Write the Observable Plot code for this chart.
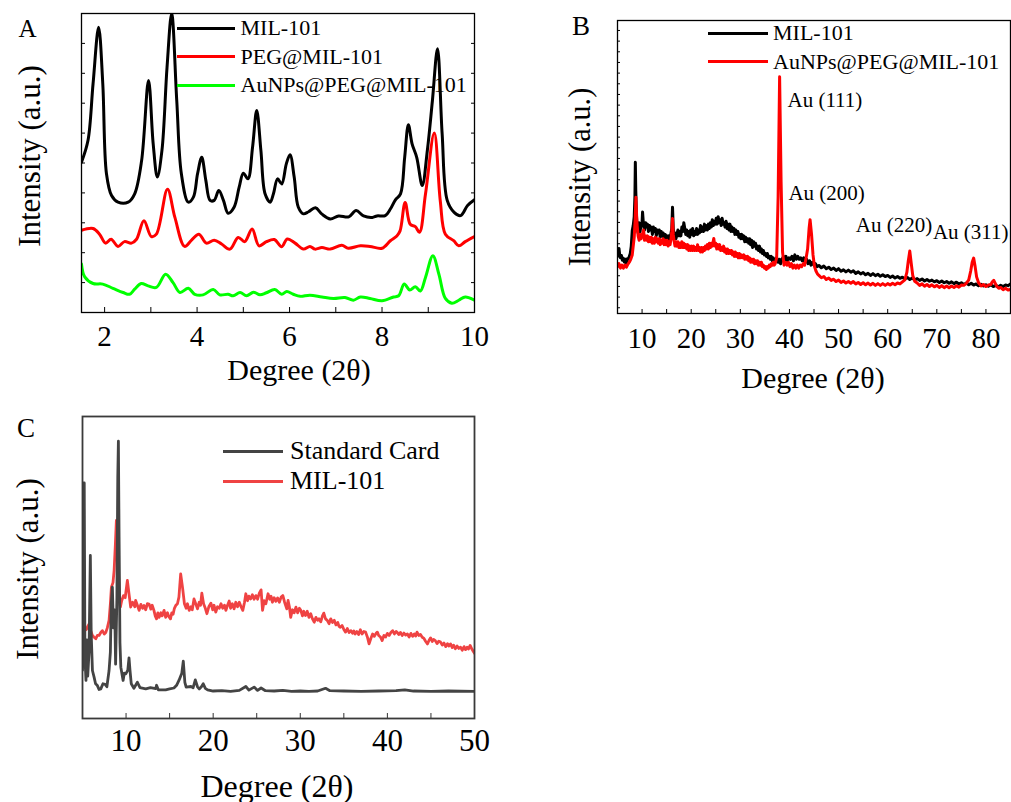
<!DOCTYPE html>
<html><head><meta charset="utf-8">
<script src="https://cdn.jsdelivr.net/npm/d3@7"></script>
<script src="https://cdn.jsdelivr.net/npm/@observablehq/plot@0.6"></script>
<style>
body{margin:0;background:#fff;}
#fig{position:relative;width:1011px;height:802px;background:#fff;font-family:'Liberation Serif','Times New Roman',serif;color:#000;overflow:hidden}
#fig svg{position:absolute}
.t{position:absolute;white-space:nowrap;line-height:1;font-family:'Liberation Serif','Times New Roman',serif}
.sw{position:absolute}
</style></head><body><div id="fig"></div>
<script>
// ---------- Panel A data: [2θ (deg), intensity (a.u.)] ----------
const A_MIL101 = [[1.5,50.3],[1.64,57.5],[1.75,76.5],[1.87,95.4],[1.96,76.6],[2.04,46.4],[2.15,39.1],[2.29,36.9],[2.51,36.9],[2.65,39.7],[2.8,50.8],[2.95,77.6],[3.05,56.5],[3.14,45.3],[3.24,54.2],[3.35,82],[3.45,100],[3.56,70.9],[3.66,46.4],[3.81,36.9],[3.92,38.6],[4.01,46.4],[4.1,51.9],[4.19,44.1],[4.28,37.5],[4.37,37.5],[4.47,40.8],[4.57,37.5],[4.67,33.2],[4.8,35.2],[4.91,41.9],[5.0,46.6],[5.1,44.7],[5.2,55.3],[5.29,67.6],[5.38,54.2],[5.47,39.7],[5.58,36.9],[5.65,39.6],[5.74,44.7],[5.83,43],[5.93,49.7],[6.01,52.8],[6.1,45.3],[6.19,35.2],[6.3,33],[6.41,33.7],[6.56,35],[6.7,32.9],[6.88,31.3],[7.06,32.3],[7.28,32],[7.44,34.1],[7.6,32.3],[7.79,31.8],[7.89,32.3],[8.07,32.4],[8.18,34.6],[8.29,37.7],[8.4,39.7],[8.49,51.9],[8.57,62.8],[8.65,56.4],[8.75,51.9],[8.87,42.5],[8.98,54.2],[9.09,70.9],[9.2,88.2],[9.3,59.8],[9.41,37.5],[9.56,33.5],[9.7,32.4],[9.85,35.8],[10,37.7]];
const A_PEG = [[1.5,27.5],[1.75,28.1],[1.89,26.2],[2.02,23.2],[2.14,24.5],[2.29,22.1],[2.43,23.7],[2.58,23.2],[2.69,24.5],[2.85,30.7],[3.01,25.4],[3.12,26.2],[3.36,41.2],[3.52,31.8],[3.73,22.1],[3.88,24.2],[4.04,26.2],[4.2,23.2],[4.37,24.2],[4.53,22.9],[4.71,21.2],[4.89,25.1],[5.03,23.7],[5.19,27.9],[5.34,22.3],[5.5,23.7],[5.67,24.4],[5.83,22],[5.95,24.6],[6.12,23.2],[6.3,21.2],[6.44,22.1],[6.55,21.2],[6.7,21.7],[6.88,21.2],[7.13,22.5],[7.27,21.5],[7.53,22.3],[7.74,22.1],[8.0,21.5],[8.18,24],[8.32,25.6],[8.39,27.3],[8.5,36.8],[8.61,29.5],[8.72,28.7],[8.81,26.8],[8.94,39.6],[9.13,60],[9.26,37.3],[9.37,26.2],[9.55,24],[9.66,22.3],[9.8,23.7],[10,25.4]];
const A_AuNPs = [[1.5,16.2],[1.57,11.9],[1.75,9.7],[1.96,9.5],[2.18,8.1],[2.4,6.7],[2.54,6.1],[2.65,7.8],[2.79,9.7],[2.94,8.9],[3.12,8.4],[3.32,12.8],[3.48,10],[3.63,6.7],[3.81,8.1],[3.95,6.1],[4.13,5.9],[4.35,7.7],[4.49,5.9],[4.67,6.1],[4.78,5.6],[4.93,6.7],[5.07,5.6],[5.22,6.8],[5.36,5.9],[5.5,6.6],[5.68,7.7],[5.83,6.1],[5.94,7],[6.08,6.1],[6.23,5.4],[6.44,5.8],[6.7,5.2],[6.95,4.7],[7.2,5],[7.38,4.1],[7.53,5.2],[7.74,4.7],[8.0,3.9],[8.25,5.2],[8.36,5.6],[8.48,9.5],[8.6,7.5],[8.72,8.6],[8.83,7.2],[8.94,11.7],[9.1,19],[9.23,12.8],[9.37,4.7],[9.51,3.1],[9.66,4.1],[9.8,5.2],[10,4.1]];
const A_xLabels = [2,4,6,8,10];
const A_xTicks = [2,3,4,5,6,7,8,9];
const A_yTicks = [10,20,30,40,50,60,70,80,90];
const A_names = ["MIL-101","PEG@MIL-101","AuNPs@PEG@MIL-101"];
const A_colors = ["#000000","#ff0000","#00ff00"];

// ---------- Panel B data ----------
const B_MIL101 = [[5,19.5],[5.15,21],[5.3,22.2],[5.45,20],[5.6,19],[5.8,19.8],[6.0,18.2],[6.2,18.8],[6.4,17.5],[6.6,18.5],[6.8,17.2],[7.0,18.7],[7.2,18.5],[7.4,19.5],[7.6,20.5],[7.8,23],[8.0,28.3],[8.2,30],[8.4,33],[8.55,40],[8.63,51.6],[8.72,42],[8.85,34],
[9.0,29],[9.2,27.5],[9.4,31],[9.6,28],[9.8,30.5],[10.0,31],[10.1,34.6],[10.3,30],[10.5,28.5],[10.7,31],[10.9,29.5],[11.1,30.5],[11.3,28],[11.5,30],[11.7,28.5],[11.9,29.5],[12.1,27],[12.3,29.5],[12.5,28],[12.7,29],[12.9,26.5],[13.1,28.5],[13.3,27.5],[13.5,28.5],[13.7,26],[13.9,28],[14.1,26.5],[14.3,27.5],[14.5,25],[14.7,27],[14.9,25.5],[15.1,26.5],[15.3,24.5],[15.5,26.5],[15.7,25.5],[15.9,27.5],[16.05,29],[16.2,36.3],[16.35,29],[16.5,26.5],[16.7,27.5],[16.9,25.5],[17.1,27],[17.3,28.5],[17.5,26.5],[17.7,28],[17.9,26.5],[18.1,29.5],[18.3,28],[18.5,31],[18.7,29],[18.9,27],[19.1,28.5],[19.3,26.5],[19.5,28],[19.7,26],[19.9,28.5],[20.1,27],[20.3,29],[20.5,26.5],[20.7,28],[20.9,27],[21.1,29],[21.3,27],[21.5,28.5],[21.7,27.5],[21.9,30],[22.1,28],[22.3,29.5],[22.5,28],[22.7,30.5],[22.9,28.5],[23.1,30],[23.3,28.5],[23.5,30.5],[23.7,29],[23.9,31],[24.1,29.5],[24.3,32],[24.5,30],[24.7,31.5],[24.9,30.5],[25.1,32.5],[25.3,30.5],[25.5,33],[25.7,31],[25.9,32],[26.1,30],[26.3,32.5],[26.5,30.5],[26.7,31],[26.9,29.5],[27.1,31.5],[27.3,29],[27.5,30.5],[27.7,28.5],[27.9,30.5],[28.1,28],[28.3,29.5],[28.5,28],[28.7,29],[28.9,27],[29.1,28.5],[29.3,27],[29.5,28],[29.7,26],[29.9,27],[30.1,25.5],[30.3,27],[30.5,25.5],[30.7,26.5],[30.9,24.5],[31.1,26],[31.3,24.5],[31.5,25.5],[31.7,24],[31.9,25.5],[32.1,23.5],[32.3,25],[32.5,22.5],[32.7,24.5],[32.9,23],[33.1,24],[33.3,22],[33.5,23],[33.7,21.5],[33.9,23],[34.1,21],[34.3,22],[34.5,20.5],[34.7,21.5],[34.9,20],[35.1,20.5],[35.3,19.5],[35.5,20.5],[35.7,19],[35.9,19.5],[36.1,18.5],[36.3,19.5],[36.5,18],[36.7,19],[36.9,18],
[37.2,18],[37.4,19],[37.7,17.5],[38.0,18.5],[38.2,17],[38.5,18.5],[38.8,19.5],[39.0,18],[39.3,19.5],[39.6,18],[39.9,19],[40.2,18.5],[40.5,19.5],[40.8,18],[41.1,20],[41.4,18.5],[41.7,19.5],[42.0,18.5],[42.3,19],[42.6,18],[42.9,19],[43.2,17.5],[43.5,18.5],[43.8,17],[44.1,18],[44.4,16.5],[44.7,17.5],[45,16.5],[45.3,17],[45.6,16],
[46,16.4],[46.5,15.6],[47,16.2],[47.5,15.3],[48,15.8],[48.5,15],[49,15.5],[49.5,14.7],[50,15.3],[50.5,14.4],[51,14.9],[51.5,14.2],[52,14.8],[52.5,14.1],[53,14.6],[53.5,13.7],[54,14.2],[54.5,13.5],[55,14],[55.5,13.2],[56,13.7],[56.5,13],[57,13.6],[57.5,12.9],[58,13.4],[58.5,12.7],[59,13.2],[59.5,12.6],[60,13],[60.5,12.3],[61,12.8],[61.5,12.1],[62,12.6],[62.5,12],[63,12.4],[63.5,11.8],[64,12.3],[64.5,11.6],[65,12.1],[65.5,11.5],[66,11.9],[66.5,11.3],[67,11.8],[67.5,11.1],[68,11.6],[68.5,11],[69,11.4],[69.5,10.8],[70,11.2],[70.5,10.6],[71,11.1],[71.5,10.5],[72,10.9],[72.5,10.3],[73,10.8],[73.5,10.2],[74,10.7],[74.5,10.1],[75,10.5],[75.5,9.9],[76,10.4],[76.5,9.8],[77,10.3],[77.5,9.7],[78,10.1],[78.5,9.5],[79,10],[79.5,9.4],[80,9.8],[80.5,9.3],[81,9.8],[81.5,9.2],[82,9.6],[82.5,9.1],[83,9.6],[83.5,9.2],[84,9.7],[84.5,9.5],[85,10.1]];
const B_AuNPs = [[5,16],[5.3,17],[5.6,15.5],[5.9,16.5],[6.2,15.5],[6.5,16.5],[6.8,15.8],[7.1,16.8],[7.4,17.5],[7.7,18.5],[8.0,20],[8.2,23],[8.4,26],[8.6,32],[8.75,39.7],[8.9,33],
[9.0,30],[9.2,26.5],[9.4,25],[9.6,27],[9.8,25.5],[10.0,26.5],[10.3,28.5],[10.5,25],[10.7,26.5],[10.9,25],[11.1,26.5],[11.3,24.5],[11.5,26],[11.7,24.5],[11.9,26],[12.1,24],[12.3,25.5],[12.5,24],[12.7,26],[12.9,24.5],[13.1,25.5],[13.3,24],[13.5,25.5],[13.7,23.5],[13.9,25],[14.1,24],[14.3,25.5],[14.5,23.5],[14.7,25],[14.9,23.5],[15.1,25],[15.3,23],[15.5,24.5],[15.7,23.5],[15.9,25.5],[16.05,28],[16.2,32.4],[16.35,27],[16.5,25],[16.7,23],[16.9,24.5],[17.1,23],[17.3,24.5],[17.5,22.5],[17.7,24],[17.9,22.5],[18.1,24.5],[18.3,22.5],[18.5,24],[18.7,22.5],[18.9,23.5],[19.1,22],[19.3,23.5],[19.5,21.5],[19.7,23],[19.9,21.5],[20.1,23],[20.3,21.5],[20.5,23],[20.7,21.5],[20.9,22.5],[21.1,21.5],[21.3,23.5],[21.5,21.5],[21.7,22.5],[21.9,21],[22.1,22.5],[22.3,21],[22.5,22.5],[22.7,21.5],[22.9,23],[23.1,22],[23.3,23.5],[23.5,22],[23.7,24],[23.9,22.5],[24.1,24],[24.3,23],[24.6,25.6],[24.8,23],[25.0,24],[25.2,22],[25.4,23.5],[25.6,22],[25.8,23.5],[26.0,21.5],[26.2,22.5],[26.4,21.5],[26.6,23],[26.8,21],[27.0,22],[27.2,20.5],[27.4,22],[27.6,20.5],[27.8,21.5],[28.0,20.5],[28.2,21.5],[28.4,20],[28.6,21],[28.8,19.5],[29.0,21],[29.2,19.5],[29.4,20.5],[29.6,19],[29.8,20.5],[30.0,19],[30.2,20],[30.4,19],[30.7,20],[30.9,18.5],[31.1,19.5],[31.3,18.5],[31.5,19.5],[31.7,18],[31.9,19],[32.1,17.5],[32.3,18.5],[32.5,17.5],[32.7,18.5],[32.9,17],[33.1,18],[33.3,17],[33.5,18],[33.7,16.5],[33.9,17.5],[34.1,16.5],[34.3,17.5],[34.5,16],[34.7,16.5],[34.9,15.5],[35.1,16],[35.3,15],[35.5,16],[35.7,15.5],[35.9,16.5],[36.1,16],[36.3,17],[36.5,16.5],[36.7,17.5],[36.9,16.5],[37.1,17],[37.4,19],[37.7,40],[38.0,80.8],[38.3,45],[38.6,21],[38.9,16.5],[39.2,17.5],[39.5,16.5],[39.8,17.5],[40.1,16],[40.4,17],[40.7,15.5],[41.0,16.5],[41.3,15.5],[41.6,16.5],[41.9,15.5],[42.2,16.5],[42.5,16],[42.8,17],[43.1,16.5],[43.4,19],[43.7,22],[44.0,29],[44.2,32],[44.5,27],[44.8,20],[45.1,16],[45.4,14.5],[45.7,13.5],
[46,13],[46.5,12.2],[47,12.6],[47.5,11.6],[48,12.1],[48.5,11.3],[49,11.7],[49.5,10.9],[50,11.4],[50.5,10.6],[51,11.1],[51.5,10.4],[52,10.9],[52.5,10.3],[53,10.9],[53.5,10.1],[54,10.6],[54.5,9.9],[55,10.5],[55.5,9.8],[56,10.4],[56.5,9.7],[57,10.3],[57.5,9.6],[58,10.2],[58.5,9.6],[59,10.2],[59.5,9.6],[60,10.2],[60.5,9.7],[61,10.3],[61.5,9.8],[62,10.4],[62.5,10.1],[63,10.8],[63.5,11.5],[63.9,14],[64.2,18],[64.5,21.3],[64.8,17],[65.1,13],[65.5,11],[66,10.4],[66.5,9.6],[67,10.1],[67.5,9.3],[68,9.9],[68.5,9.2],[69,9.8],[69.5,9.1],[70,9.6],[70.5,8.9],[71,9.5],[71.5,8.8],[72,9.4],[72.5,8.8],[73,9.4],[73.5,8.9],[74,9.5],[74.5,9],[75,9.7],[75.5,9.6],[76,10.3],[76.5,11.5],[76.9,14.5],[77.2,17.5],[77.5,18.9],[77.8,16],[78.1,12.5],[78.5,10.5],[79,9.4],[79.5,9.9],[80,9.2],[80.5,9.7],[81,9.9],[81.3,10.8],[81.6,11.3],[81.9,10.3],[82.2,9.3],[82.6,8.6],[83,8.9],[83.5,8.1],[84,8.6],[84.5,8],[85,8.2]];
const B_peakLabels = [{x:39.6,y:72.7,t:"Au (111)"},{x:39.8,y:41,t:"Au (200)"},{x:53.5,y:30,t:"Au (220)"},{x:69.2,y:27.6,t:"Au (311)"}];
const B_xLabels = [10,20,30,40,50,60,70,80];
const B_xTicks = [10,15,20,25,30,35,40,45,50,55,60,65,70,75,80];
const B_yTicks = d3.range(96.6, 0, -3.64);
const B_names = ["MIL-101","AuNPs@PEG@MIL-101"];
const B_colors = ["#000000","#ff0000"];

// ---------- Panel C data ----------
const C_card = [[5.0,16],[5.07,30],[5.13,78],[5.2,78],[5.28,20],[5.4,12.6],[5.5,26],[5.6,14],[5.75,22],[5.9,54],[6.0,28],[6.14,15.9],[6.33,13.7],[6.5,11.5],[6.71,10.9],[6.9,9.6],[7.1,9.8],[7.35,11.5],[7.6,11.3],[7.8,10.5],[8.05,15.9],[8.2,22],[8.3,38],[8.43,43.5],[8.55,30],[8.7,36],[8.8,18],[8.95,40],[9.05,80],[9.12,91.8],[9.2,60],[9.3,25],[9.4,17],[9.66,12.6],[9.8,15],[9.97,14.8],[10.2,16],[10.34,20.1],[10.45,16],[10.6,11.5],[10.9,10],[11.3,12],[11.6,10.2],[12.26,9.8],[12.8,10.2],[13.4,9.9],[13.5,11],[13.7,9.5],[14.55,9.5],[15.0,9.8],[15.5,10.1],[15.8,11],[16.07,12.6],[16.4,15],[16.57,19],[16.75,12],[16.9,10.4],[17.45,10.6],[17.7,10.2],[17.95,12.8],[18.2,10.5],[18.4,9.8],[18.65,10.5],[18.86,11.5],[19.1,10],[19.36,9.5],[20,9.1],[21,9.2],[22,9.0],[23,9.3],[23.75,10.6],[24.1,9.4],[24.7,10.4],[25.1,9.3],[25.5,10.1],[26,9.2],[27,9.1],[28,9.3],[29,9.0],[30,9.1],[31,9.0],[32,9.1],[32.9,10],[33.4,9.2],[35,9.1],[37,9.0],[39,9.1],[41,9.2],[42,9.5],[43,9.1],[45,9.0],[47,9.1],[50,9.0]];
const C_MIL101 = [[5.0,30.2],[5.2,29],[5.45,29.5],[5.6,30.5],[5.76,31.3],[5.95,29],[6.14,27.5],[6.3,27],[6.53,26.4],[6.7,27.5],[6.9,27.5],[7.1,28.5],[7.28,29.1],[7.5,28],[7.67,28.5],[7.85,30],[8.05,32.5],[8.2,38],[8.32,43.5],[8.5,45],[8.63,49],[8.78,58],[8.89,65.6],[9.0,58],[9.12,49],[9.25,40],[9.35,36.9],[9.5,39],[9.7,40.7],[9.9,40],[10.15,45.7],[10.35,41],
[10.53,36.9],[10.75,38.5],[11.0,37],[11.1,39.1],[11.3,37.5],[11.5,35.8],[11.7,37.8],[11.9,36.5],[12.06,37.4],[12.25,36],[12.45,38],[12.64,37.9],[12.85,36.2],[13.0,37.5],[13.2,35.8],[13.35,34],[13.5,33],[13.65,35],[13.8,33.5],[14.0,35],[14.15,34],[14.36,35.8],[14.55,33.5],[14.75,35],[14.9,33.8],[15.1,33],[15.25,35],[15.4,34.5],[15.55,36.5],[15.7,37.4],[15.9,38],[16.07,40.2],[16.27,47.9],[16.5,43],[16.7,38],[16.9,36.5],[17.05,38],[17.25,35.8],[17.45,37],[17.6,36],[17.8,39.6],[18.0,38],[18.2,36.3],[18.4,38.5],[18.55,37.5],[18.7,41.5],[18.9,38],[19.1,36.5],[19.28,34.7],[19.5,37],[19.74,38.2],[19.95,36],[20.1,37.5],[20.3,35.2],[20.5,37],[20.7,36.5],[20.9,38],[21.1,36.5],[21.3,37.5],[21.46,35.8],[21.65,37.5],[21.84,38.9],[22.0,36.5],[22.2,38],[22.4,36.3],[22.6,38.5],[22.8,37],[23.0,38.5],[23.2,37],[23.4,35.8],[23.6,38.5],[23.75,41.3],[23.95,39],[24.1,40.5],[24.3,39.6],[24.5,41],[24.7,39.5],[24.9,40.7],[25.1,39.5],[25.3,41.5],[25.5,42.6],[25.67,35.8],[25.85,39],[26.05,38],[26.3,41.3],[26.5,39.5],[26.65,40.5],[26.8,38.5],[27.0,40],[27.2,38.8],[27.4,39.9],[27.6,38.5],[27.8,40.2],[28.0,40.7],[28.2,38.5],[28.45,36.3],[28.6,39.1],[28.75,37],[28.9,33.5],[29.1,36],[29.3,35],[29.5,36.9],[29.7,35],[29.9,36.5],[30.06,35.8],[30.25,34],[30.4,35.5],[30.6,34.1],[30.8,35.5],[31.0,33.5],[31.2,34.7],[31.4,33],[31.6,31.9],[31.8,33.5],[32.0,32.5],[32.15,33],[32.35,32],[32.55,34],[32.7,34.9],[32.9,33],[33.1,32.5],[33.3,31.4],[33.5,33],[33.7,31.8],[33.9,32.5],[34.1,31],[34.3,31.8],[34.45,30.5],[34.6,30.2],[34.8,30.8],[35.0,29.5],[35.2,28.6],[35.4,29.8],[35.6,28.5],[35.8,29.1],[36.0,28.2],[36.15,29],[36.3,28],[36.5,28.8],[36.7,27.8],[36.9,29.4],[37.1,28],[37.3,28.8],[37.5,28.6],[37.7,27],[37.9,24.7],[38.1,26.5],[38.3,28],[38.5,27.2],[38.7,28.2],[38.85,28.6],[39.0,27.5],[39.2,27],[39.4,25.8],[39.6,27.5],[39.8,27],[40.0,28.2],[40.2,27.5],[40.4,28.5],[40.6,29.1],[40.8,28],[41.0,28.8],[41.1,28.6],[41.3,27.8],[41.5,28.5],[41.7,27.5],[41.9,28.3],[42.1,27.6],[42.3,28],[42.5,27],[42.7,28.2],[42.9,27.2],[43.1,28],[43.25,27.3],[43.4,28.6],[43.6,27.5],[43.8,27.8],[44.0,26.9],[44.2,26.5],[44.4,25.5],[44.6,24.7],[44.8,26],[44.96,26.7],[45.15,25.5],[45.3,26.2],[45.5,25.8],[45.7,24.8],[45.9,25.6],[46.1,25.3],[46.3,24.3],[46.5,25],[46.7,23.8],[46.9,24.8],[47.05,24],[47.25,24.7],[47.45,23.5],[47.6,24.3],[47.8,23.1],[48.0,24],[48.2,23.2],[48.4,23.6],[48.6,22.6],[48.8,23.8],[48.97,22.8],[49.15,23.6],[49.3,23],[49.5,24.2],[49.7,23],[49.85,22.3],[50,21.6]];
const C_xLabels = [10,20,30,40,50];
const C_xTicks = [10,15,20,25,30,35,40,45];
const C_names = ["Standard Card","MIL-101"];
const C_colors = ["#444444","#ef4343"];

// ---------- helpers ----------
const fig = document.getElementById("fig");
const SERIF = "'Liberation Serif','Times New Roman',serif";
function txt(str, x, y, size, anchor = "middle", rotate = 0) {
  const d = document.createElement("div");
  d.className = "t"; d.textContent = str;
  d.style.fontSize = size + "px";
  d.style.left = x + "px"; d.style.top = y + "px";
  d.style.transform = `translate(${anchor === "start" ? "0" : "-50%"},-50%)` + (rotate ? ` rotate(${rotate}deg)` : "");
  fig.appendChild(d);
}
function swatch(x1, x2, y, color, w) {
  const d = document.createElement("div");
  d.className = "sw";
  d.style.left = x1 + "px"; d.style.top = (y - w / 2) + "px";
  d.style.width = (x2 - x1) + "px"; d.style.height = w + "px";
  d.style.background = color;
  fig.appendChild(d);
}
function place(svg, left, top) {
  svg.style.left = left + "px"; svg.style.top = top + "px";
  fig.appendChild(svg);
}
const fx = d => d[0], fy = d => d[1];
const blank = () => "";

// ---------- Panel A ----------
const plotA = Plot.plot({
  width: 490, height: 400,
  marginLeft: 81, marginRight: 16, marginTop: 13, marginBottom: 88,
  x: {domain: [1.5, 10]},
  y: {domain: [0, 100]},
  style: {fontFamily: SERIF, fontSize: "29px", color: "#000", background: "transparent", overflow: "visible"},
  marks: [
    Plot.axisX({ticks: A_xLabels, tickSize: 0, tickPadding: 13, label: null, fontFamily: SERIF}),
    Plot.axisX({ticks: A_xTicks, tickSize: -5, tickFormat: blank, label: null}),
    Plot.axisY({ticks: A_yTicks, tickSize: -4, tickFormat: blank, label: null}),
    Plot.axisY({anchor: "right", ticks: A_yTicks, tickSize: -4, tickFormat: blank, label: null}),
    Plot.line(A_AuNPs, {x: fx, y: fy, stroke: A_colors[2], strokeWidth: 3, curve: "catmull-rom", clip: true}),
    Plot.line(A_PEG, {x: fx, y: fy, stroke: A_colors[1], strokeWidth: 3, curve: "catmull-rom", clip: true}),
    Plot.line(A_MIL101, {x: fx, y: fy, stroke: A_colors[0], strokeWidth: 3, curve: "catmull-rom", clip: true}),
    Plot.frame({stroke: "#000", strokeWidth: 1.3})
  ]
});
place(plotA, 0, 0);

// ---------- Panel B ----------
const plotB = Plot.plot({
  width: 451, height: 400,
  marginLeft: 57, marginRight: 1, marginTop: 20, marginBottom: 87,
  x: {domain: [5, 85]},
  y: {domain: [0, 100]},
  style: {fontFamily: SERIF, fontSize: "29px", color: "#000", background: "transparent", overflow: "visible"},
  marks: [
    Plot.axisX({ticks: B_xLabels, tickSize: 0, tickPadding: 14, label: null, fontFamily: SERIF}),
    Plot.axisX({ticks: B_xTicks, tickSize: -4, tickFormat: blank, label: null}),
    Plot.axisY({ticks: B_yTicks, tickSize: -3, tickFormat: blank, label: null}),
    Plot.line(B_MIL101, {x: fx, y: fy, stroke: B_colors[0], strokeWidth: 3, clip: true}),
    Plot.line(B_AuNPs, {x: fx, y: fy, stroke: B_colors[1], strokeWidth: 3, clip: true}),
    Plot.text(B_peakLabels, {x: "x", y: "y", text: "t", textAnchor: "start", fontSize: 21, fontFamily: SERIF, fill: "#000"}),
    Plot.frame({stroke: "#000", strokeWidth: 1.3})
  ]
});
place(plotB, 560, 0);

// ---------- Panel C ----------
const plotC = Plot.plot({
  width: 490, height: 402,
  marginLeft: 82, marginRight: 16, marginTop: 16, marginBottom: 84,
  x: {domain: [5, 50]},
  y: {domain: [0, 100], axis: null},
  style: {fontFamily: SERIF, fontSize: "31px", color: "#333", background: "transparent", overflow: "visible"},
  marks: [
    Plot.axisX({ticks: C_xLabels, tickSize: 0, tickPadding: 10, label: null, fill: "#000", fontFamily: SERIF}),
    Plot.axisX({ticks: C_xTicks, tickSize: -5, tickFormat: blank, label: null}),
    Plot.line(C_MIL101, {x: fx, y: fy, stroke: C_colors[1], strokeWidth: 2.8, clip: true}),
    Plot.line(C_card, {x: fx, y: fy, stroke: C_colors[0], strokeWidth: 2.8, clip: true}),
    Plot.frame({stroke: "#3a3a3a", strokeWidth: 1.8})
  ]
});
place(plotC, 0, 400);

// ---------- titles, legends, labels ----------
txt("A", 27.5, 27.5, 25);
txt("B", 581, 26, 27);
txt("C", 26, 427.5, 27);

txt("Degree (2θ)", 299, 370, 30);
txt("Intensity (a.u.)", 29, 156, 31, "middle", -90);
txt("Degree (2θ)", 813, 378, 30);
txt("Intensity (a.u.)", 580, 177, 30.5, "middle", -90);
txt("Degree (2θ)", 277, 785.5, 32);
txt("Intensity (a.u.)", 27, 569, 31, "middle", -90);

[28.3, 56.7, 85].forEach((y, i) => { swatch(177, 235, y, A_colors[i], 3); txt(A_names[i], 240.5, y, 22, "start"); });
[33.3, 61.7].forEach((y, i) => { swatch(708, 768, y, B_colors[i], 3); txt(B_names[i], 773, y, 22, "start"); });
[451, 481].forEach((y, i) => { swatch(223, 283, y, C_colors[i], 3); txt(C_names[i], 290, y, 26, "start"); });
</script></body></html>
